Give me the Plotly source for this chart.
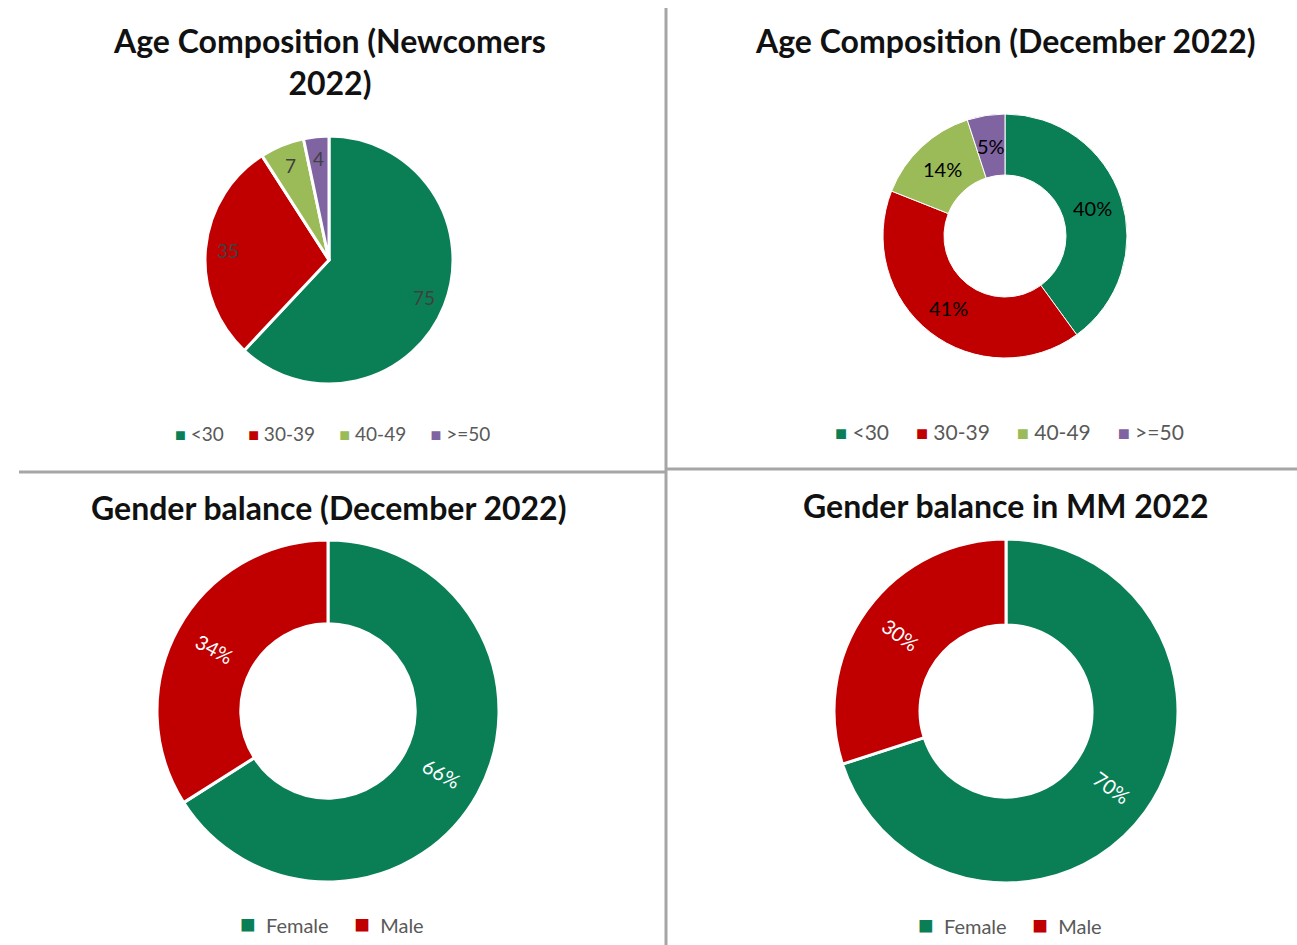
import math
import plotly.graph_objects as go

# ---- data ----
age_labels = ["<30", "30-39", "40-49", ">=50"]
newcomers_values = [75, 35, 7, 4]
december_age_pct = [40, 41, 14, 5]
gender_labels = ["Female", "Male"]
december_gender_pct = [66, 34]
mm_gender_pct = [70, 30]

age_colors = ["#0A7F56", "#C00000", "#9BBB59", "#8064A2"]
gender_colors = ["#0A7F56", "#C00000"]

W, H = 1297, 945
FONT = "Lato"

def dom(cx, cy, r):
    return dict(x=[(cx - r) / W, (cx + r) / W], y=[1 - (cy + r) / H, 1 - (cy - r) / H])

fig = go.Figure()

panels = [
    # labels, values, colors, center x, center y, radius, hole, label radius frac, fmt, text color, radial, border, font size
    (age_labels, newcomers_values, age_colors, 329, 260, 124, 0.0, 0.82, "{}", "#404040", False, 3, 19),
    (age_labels, december_age_pct, age_colors, 1005, 236, 122, 0.5, 0.75, "{}%", "#000000", False, 1, 20),
    (gender_labels, december_gender_pct, gender_colors, 328, 711, 171, 0.51, 0.755, "{}%", "#FFFFFF", True, 3, 20),
    (gender_labels, mm_gender_pct, gender_colors, 1006, 711, 172, 0.5, 0.755, "{}%", "#FFFFFF", True, 3, 20),
]

for labels, values, colors, cx, cy, r, hole, frac, fmt, tcol, radial, bw, fs in panels:
    fig.add_trace(go.Pie(
        labels=labels, values=values, sort=False, direction="clockwise", rotation=0,
        hole=hole, marker=dict(colors=colors, line=dict(color="white", width=bw)),
        textinfo="none", showlegend=False, hoverinfo="label+value",
        domain=dom(cx, cy, r),
    ))
    # data labels placed at the middle angle of each slice (computed from values)
    total = sum(values)
    cum = 0
    for v in values:
        mid = (cum + v / 2) / total * 360
        cum += v
        th = math.radians(mid)
        x = cx + frac * r * math.sin(th)
        y = cy - frac * r * math.cos(th)
        ang = 0
        if radial:
            ang = mid - 90 if mid < 180 else mid - 270
        fig.add_annotation(text=fmt.format(v), x=x / W, y=1 - y / H, xref="paper", yref="paper",
                           xanchor="center", yanchor="middle", showarrow=False, textangle=ang,
                           font=dict(size=fs, color=tcol, family=FONT))

# ---- legends (built as text) ----
def legend_text(labels, colors, sq, pre, gap):
    parts = []
    for lab, col in zip(labels, colors):
        lab = lab.replace("<", "&lt;").replace(">", "&gt;")
        parts.append(f"<span style='color:{col};font-size:{sq}px'>■</span>" + "&nbsp;" * pre + lab)
    return ("&nbsp;" * gap).join(parts)

legends = [
    (age_labels, age_colors, 332, 433, 19, 18, 1, 5),
    (age_labels, age_colors, 1009, 431, 21, 20, 1, 5),
    (gender_labels, gender_colors, 332, 923, 20, 26, 2, 5),
    (gender_labels, gender_colors, 1010, 924, 20, 26, 2, 5),
]
for labels, colors, x, y, fs, sq, pre, gap in legends:
    fig.add_annotation(text=legend_text(labels, colors, sq, pre, gap), x=x / W, y=1 - y / H,
                       xref="paper", yref="paper", xanchor="center", yanchor="middle", showarrow=False,
                       font=dict(size=fs, color="#595959", family=FONT))

titles = [
    ("Age Composition (Newcomers<br>2022)", 329, 62),
    ("Age Composition (December 2022)", 1005, 40),
    ("Gender balance (December 2022)", 328, 507),
    ("Gender balance in MM 2022", 1006, 505),
]
for text, x, y in titles:
    fig.add_annotation(text="<b>" + text + "</b>", x=x / W, y=1 - y / H, xref="paper", yref="paper",
                       xanchor="center", yanchor="middle", showarrow=False,
                       font=dict(size=32, color="#111111", family=FONT))

fig.update_layout(
    width=W, height=H,
    margin=dict(l=0, r=0, t=0, b=0),
    paper_bgcolor="white",
    plot_bgcolor="white",
    showlegend=False,
)

line_color = "#A6A6A6"
fig.add_shape(type="line", xref="paper", yref="paper", x0=666 / W, x1=666 / W, y0=0, y1=1 - 8 / H,
              line=dict(color=line_color, width=3))
fig.add_shape(type="line", xref="paper", yref="paper", x0=19 / W, x1=666 / W, y0=1 - 472 / H, y1=1 - 472 / H,
              line=dict(color=line_color, width=3))
fig.add_shape(type="line", xref="paper", yref="paper", x0=666 / W, x1=1, y0=1 - 469 / H, y1=1 - 469 / H,
              line=dict(color=line_color, width=3))

fig.write_html("out.html")
